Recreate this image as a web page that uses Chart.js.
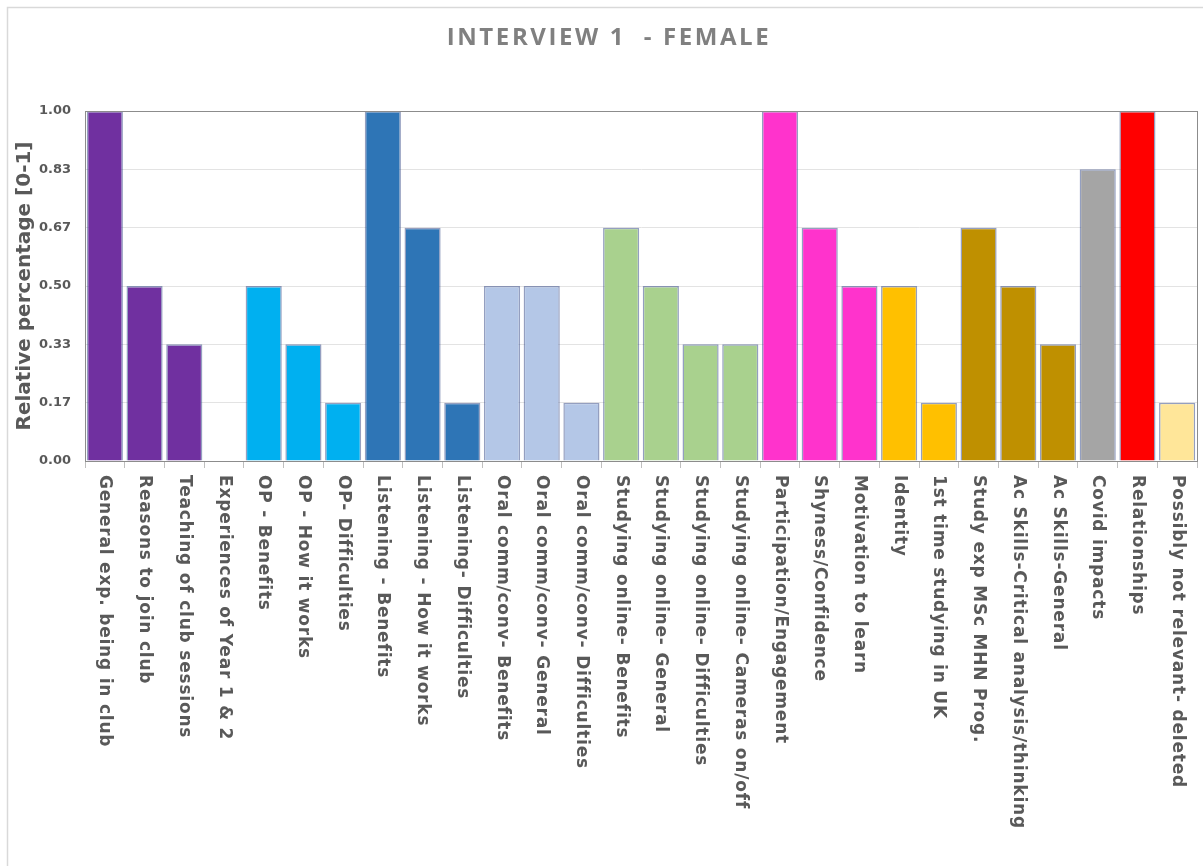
<!DOCTYPE html>
<html>
<head>
<meta charset="utf-8">
<title>Interview 1 - Female</title>
<script src="https://cdn.jsdelivr.net/npm/chart.js@4.4.1/dist/chart.umd.min.js"></script>
<style>
  html, body { margin: 0; padding: 0; background: #fff; }
  #wrap { width: 1203px; height: 866px; position: relative; }
</style>
</head>
<body>
<div id="wrap"><canvas id="myChart" width="1203" height="866"></canvas></div>
<script>
var chartTitle = 'INTERVIEW 1  - FEMALE';
var yTitle = 'Relative percentage [0-1]';

var categories = [
  'General exp. being in club', 'Reasons to join club', 'Teaching of club sessions',
  'Experiences of Year 1 & 2', 'OP - Benefits', 'OP - How it works', 'OP- Difficulties',
  'Listening - Benefits', 'Listening - How it works', 'Listening- Difficulties',
  'Oral comm/conv- Benefits', 'Oral comm/conv- General', 'Oral comm/conv- Difficulties',
  'Studying online- Benefits', 'Studying online- General', 'Studying online- Difficulties',
  'Studying online- Cameras on/off', 'Participation/Engagement', 'Shyness/Confidence',
  'Motivation to learn', 'Identity', '1st time studying in UK', 'Study exp MSc MHN Prog.',
  'Ac Skills-Critical analysis/thinking', 'Ac Skills-General', 'Covid impacts',
  'Relationships', 'Possibly not relevant- deleted'
];

var values = [
  1.0, 0.5, 0.3333,
  0, 0.5, 0.3333, 0.1667,
  1.0, 0.6667, 0.1667,
  0.5, 0.5, 0.1667,
  0.6667, 0.5, 0.3333,
  0.3333, 1.0, 0.6667,
  0.5, 0.5, 0.1667, 0.6667,
  0.5, 0.3333, 0.8333,
  1.0, 0.1667
];

var barColors = [
  '#7030A0', '#7030A0', '#7030A0',
  '#7030A0', '#00B0F0', '#00B0F0', '#00B0F0',
  '#2E75B6', '#2E75B6', '#2E75B6',
  '#B4C7E7', '#B4C7E7', '#B4C7E7',
  '#A9D18E', '#A9D18E', '#A9D18E',
  '#A9D18E', '#FF33CC', '#FF33CC',
  '#FF33CC', '#FFC000', '#FFC000', '#BF9000',
  '#BF9000', '#BF9000', '#A5A5A5',
  '#FF0000', '#FFE699'
];

var yTickValues = [0, 0.1667, 0.3333, 0.5, 0.6667, 0.8333, 1.0];

// frame, plot border, title and the rotated category labels
var decorations = {
  id: 'decorations',
  beforeDraw: function (chart) {
    var ctx = chart.ctx;
    ctx.save();
    ctx.fillStyle = '#fff';
    ctx.fillRect(0, 0, chart.width, chart.height);
    ctx.strokeStyle = '#d9d9d9';
    ctx.lineWidth = 1.5;
    ctx.strokeRect(7.5, 7.5, chart.width + 10, chart.height + 10);
    ctx.restore();
  },
  afterDraw: function (chart) {
    var ctx = chart.ctx;
    var area = chart.chartArea;
    var xs = chart.scales.x;
    ctx.save();
    ctx.strokeStyle = '#8c8c8c';
    ctx.lineWidth = 1;
    ctx.strokeRect(Math.round(area.left) + 0.5, Math.round(area.top) + 0.5,
      Math.round(area.right - area.left), Math.round(area.bottom - area.top));

    ctx.fillStyle = '#808080';
    ctx.font = 'bold 24px "Open Sans"';
    ctx.letterSpacing = '2.6px';
    ctx.textAlign = 'center';
    ctx.textBaseline = 'middle';
    ctx.fillText(chartTitle, 609, 38);

    ctx.fillStyle = '#595959';
    ctx.font = 'bold 17px "DejaVu Sans"';
    ctx.letterSpacing = '0.8px';
    ctx.textAlign = 'left';
    categories.forEach(function (label, i) {
      var x = xs.getPixelForValue(i);
      ctx.save();
      ctx.translate(x, area.bottom + 14);
      ctx.rotate(Math.PI / 2);
      ctx.fillText(label, 0, 0);
      ctx.restore();
    });
    ctx.letterSpacing = '0px';
    ctx.restore();
  }
};

var ctx = document.getElementById('myChart').getContext('2d');
var chart = new Chart(ctx, {
  type: 'bar',
  data: {
    labels: categories,
    datasets: [{
      data: values,
      backgroundColor: barColors,
      borderColor: 'rgba(60, 80, 140, 0.55)',
      borderWidth: 1.5,
      barPercentage: 0.91,
      categoryPercentage: 1.0
    }]
  },
  options: {
    responsive: false,
    animation: false,
    layout: { padding: { top: 111, right: 6, left: 0, bottom: 0 } },
    plugins: {
      legend: { display: false },
      tooltip: { enabled: false }
    },
    scales: {
      x: {
        grid: {
          display: true,
          drawOnChartArea: false,
          drawTicks: true,
          tickLength: 7,
          color: '#bfbfbf'
        },
        border: { color: '#bfbfbf' },
        ticks: { display: false },
        afterFit: function (scale) { scale.height = 405; }
      },
      y: {
        min: 0,
        max: 1,
        afterBuildTicks: function (scale) {
          scale.ticks = yTickValues.map(function (v) { return { value: v }; });
        },
        grid: { color: '#e3e3e3', drawTicks: false },
        border: { color: '#8c8c8c' },
        ticks: {
          padding: 14,
          color: '#595959',
          font: { family: '"DejaVu Sans"', size: 13, weight: 'bold' },
          callback: function (v) { return Number(v).toFixed(2); }
        },
        title: {
          display: true,
          text: yTitle,
          color: '#595959',
          padding: { top: 13, bottom: 0 },
          font: { family: '"DejaVu Sans"', size: 20, weight: 'bold' }
        },
        afterFit: function (scale) { scale.width = 85; }
      }
    }
  },
  plugins: [decorations]
});
</script>
</body>
</html>
